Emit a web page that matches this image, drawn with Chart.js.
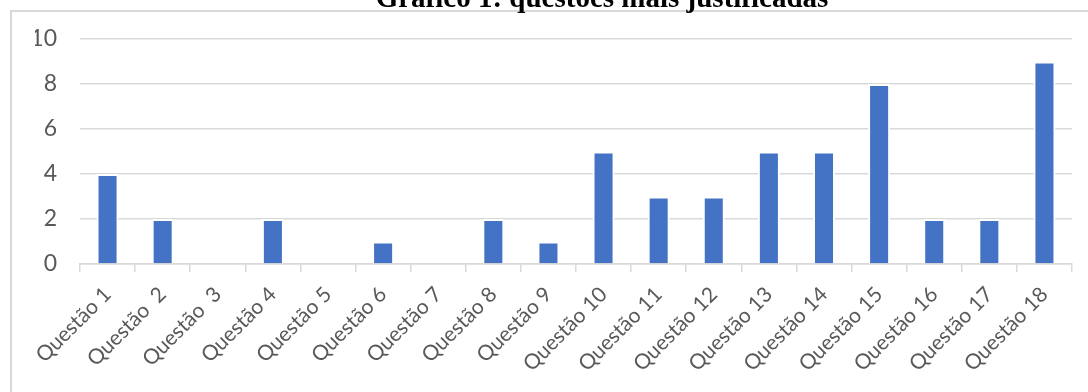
<!DOCTYPE html>
<html lang="pt">
<head>
  <meta charset="UTF-8">
  <title>Gráfico 1</title>
  <script src="https://cdn.jsdelivr.net/npm/chart.js"></script>
  <style>
    body { margin: 0; width: 1088px; height: 392px; overflow: hidden; background: #fff; position: relative; }
    #moldura { position: absolute; left: 10px; top: 10px; width: 1200px; height: 500px; border: 2px solid #d9d9d9; box-sizing: border-box; }
    #box { position: absolute; left: 0; top: 0; width: 1088px; height: 392px; }
  </style>
</head>
<body>
  <div id="moldura"></div>
  <div id="box"><canvas id="grafico"></canvas></div>

  <script>
    const titulo = "Gráfico 1: questões mais justificadas";
    const questoes = ["Questão 1", "Questão  2", "Questão  3", "Questão 4", "Questão 5", "Questão 6",
      "Questão 7", "Questão 8", "Questão 9", "Questão 10", "Questão 11", "Questão 12",
      "Questão 13", "Questão 14", "Questão 15", "Questão 16", "Questão 17", "Questão 18"];
    const justificadas = [4, 2, 0, 2, 0, 1, 0, 2, 1, 5, 3, 3, 5, 5, 8, 2, 2, 9];

    // titulo cortado no topo, como no original
    const tituloPlugin = {
      id: "tituloCortado",
      afterDraw(chart) {
        const ctx = chart.ctx;
        ctx.save();
        ctx.font = "bold 29px 'Liberation Serif'";
        ctx.fillStyle = "#000";
        ctx.textAlign = "center";
        ctx.textBaseline = "alphabetic";
        ctx.fillText(titulo, 602, 7);
        ctx.restore();
      }
    };

    new Chart(document.getElementById("grafico"), {
      type: "bar",
      data: {
        labels: questoes,
        datasets: [{
          data: justificadas,
          backgroundColor: "#4472c4",
          borderColor: "#ffffff",
          borderWidth: 2,
          barPercentage: 0.4,
          categoryPercentage: 1
        }]
      },
      options: {
        responsive: true,
        maintainAspectRatio: false,
        animation: false,
        layout: { autoPadding: false, padding: { left: 35, right: 16, top: 39, bottom: 0 } },
        plugins: { legend: { display: false }, tooltip: { enabled: false } },
        scales: {
          x: {
            afterFit(s) { s.height = 128; },
            grid: { drawOnChartArea: false, drawTicks: true, tickLength: 8, color: "#d9d9d9", lineWidth: 1.5 },
            border: { color: "#d9d9d9", width: 1.5 },
            ticks: { font: { family: "Lato", size: 21 }, color: "#595959", minRotation: 45, maxRotation: 45, autoSkip: false, padding: 10 }
          },
          y: {
            afterFit(s) { s.width = 45; },
            min: 0,
            max: 10,
            grid: { color: "#d9d9d9", lineWidth: 1.5, drawTicks: false },
            border: { display: false },
            ticks: { stepSize: 2, font: { family: "Lato", size: 23 }, color: "#595959", padding: 23 }
          }
        }
      },
      plugins: [tituloPlugin]
    });
  </script>
</body>
</html>
